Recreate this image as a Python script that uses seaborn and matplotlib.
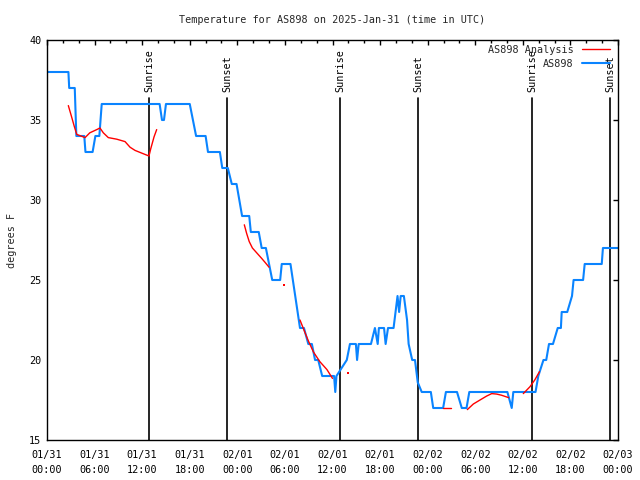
import numpy as np
import pandas as pd
import matplotlib
matplotlib.use("Agg")
import matplotlib.pyplot as plt
import matplotlib.dates as mdates
import seaborn as sns
from matplotlib.lines import Line2D

# ---------------- data ----------------
start = pd.Timestamp("2025-01-31 00:00")
end = pd.Timestamp("2025-02-03 00:00")

obs_hours = [0, 2.7, 2.8, 3.5, 3.7, 4.7, 4.85, 5.75, 6.1, 6.6,
             6.9, 14.2, 14.5, 14.75, 15.0, 18.0, 18.4, 18.8, 20.0, 20.3,
             21.8, 22.1, 22.8, 23.3, 23.9, 24.6, 25.5, 25.7, 26.7, 27.07,
             27.6, 28.0, 28.4, 29.4, 29.6, 30.7, 31.0, 31.3, 31.6, 31.9,
             32.4, 32.95, 33.4, 33.8, 34.2, 34.7, 36.2, 36.35, 36.5, 37.8,
             38.2, 38.95, 39.1, 39.3, 40.85, 41.35, 41.7, 41.85, 42.5, 42.7,
             43.0, 43.7, 44.2, 44.4, 44.6, 45.0, 45.4, 45.6, 46.05, 46.4,
             46.75, 47.25, 48.4, 48.7, 49.95, 50.3, 51.7, 52.3, 52.9, 53.25,
             58.05, 58.6, 58.8, 61.6, 61.95, 62.6, 62.95, 63.3, 63.8, 64.4,
             64.8, 64.9, 65.6, 66.2, 66.4, 67.6, 67.8, 69.95, 70.1, 72]
obs_temps = [38, 38, 37, 37, 34, 34, 33, 33, 34, 34,
             36, 36, 35, 35, 36, 36, 35, 34, 34, 33,
             33, 32, 32, 31, 31, 29, 29, 28, 28, 27,
             27, 26, 25, 25, 26, 26, 25, 24, 23, 22,
             22, 21, 21, 20, 20, 19, 19, 18, 19, 20,
             21, 21, 20, 21, 21, 22, 21, 22, 22, 21,
             22, 22, 24, 23, 24, 24, 22.5, 21, 20, 20,
             18.6, 18, 18, 17, 17, 18, 18, 17, 17, 18,
             18, 17, 18, 18, 19, 20, 20, 21, 21, 22,
             22, 23, 23, 24, 25, 25, 26, 26, 27, 27]

ana_seg1_hours = [2.69, 3.1, 3.44, 3.75, 4.8, 5.4, 6.27, 6.68, 7.1, 7.73,
                  8.8, 9.84, 10.47, 11.1, 12.1, 12.86, 13.08, 13.5, 13.83]
ana_seg1_temps = [35.9, 35.2, 34.6, 34.1, 33.9, 34.2, 34.4, 34.5, 34.2, 33.9,
                  33.8, 33.65, 33.3, 33.1, 32.9, 32.75, 33.2, 33.95, 34.4]
ana_seg2_hours = [24.88, 25.18, 25.5, 25.9, 26.44, 27.07, 27.5, 28.0]
ana_seg2_temps = [28.45, 27.9, 27.4, 27.0, 26.7, 26.35, 26.1, 25.8]
ana_seg3_hours = [31.9, 32.3, 32.95, 33.6, 34.4, 35.3, 36.0]
ana_seg3_temps = [22.5, 22.0, 21.2, 20.5, 19.9, 19.4, 18.85]
ana_seg4_hours = [49.95, 51.0]
ana_seg4_temps = [17, 17]
ana_seg5_hours = [53.0, 53.76, 54.6, 55.45, 56.08, 56.7, 57.3, 58.2]
ana_seg5_temps = [16.9, 17.25, 17.5, 17.75, 17.9, 17.87, 17.8, 17.65]
ana_seg6_hours = [60.06, 60.9, 61.5, 62.1]
ana_seg6_temps = [17.9, 18.33, 18.75, 19.27]
ana_dot_hours = [29.9, 37.9]
ana_dot_temps = [24.67, 19.17]

sun_hours = [12.9, 22.74, 36.99, 46.82, 61.2, 71.03]
sun_labels = ["Sunrise", "Sunset", "Sunrise", "Sunset", "Sunrise", "Sunset"]

title = "Temperature for AS898 on 2025-Jan-31 (time in UTC)"
ylabel = "degrees F"
label_obs = "AS898"
label_ana = "AS898 Analysis"

# ---------------- build frames ----------------
def to_time(h):
    return start + pd.to_timedelta(np.asarray(h, dtype=float), unit="h")

obs = pd.DataFrame({"time": to_time(obs_hours), "temp": obs_temps})
segs = [(ana_seg1_hours, ana_seg1_temps), (ana_seg2_hours, ana_seg2_temps),
        (ana_seg3_hours, ana_seg3_temps), (ana_seg4_hours, ana_seg4_temps),
        (ana_seg5_hours, ana_seg5_temps), (ana_seg6_hours, ana_seg6_temps)]
ana = pd.concat([pd.DataFrame({"time": to_time(h), "temp": t, "seg": i})
                 for i, (h, t) in enumerate(segs)], ignore_index=True)
dots = pd.DataFrame({"time": to_time(ana_dot_hours), "temp": ana_dot_temps})

# ---------------- plot ----------------
sns.set_style("white")
plt.rcParams["font.family"] = ["DejaVu Sans Mono"]
FS = 7.3

fig = plt.figure(figsize=(6.4, 4.8), dpi=100)
ax = fig.add_axes([47 / 640, 1 - 440 / 480, 571 / 640, 400 / 480])

RED = "#ff0000"
BLUE = "#0a84ff"

sns.lineplot(data=ana, x="time", y="temp", units="seg", estimator=None,
             color=RED, lw=1.0, ax=ax, legend=False, zorder=3)
sns.scatterplot(data=dots, x="time", y="temp", color=RED, s=2, marker="s",
                linewidth=0, ax=ax, legend=False, zorder=3)
sns.lineplot(data=obs, x="time", y="temp", color=BLUE, lw=1.5, ax=ax,
             legend=False, zorder=2)

for h, lab in zip(sun_hours, sun_labels):
    t = to_time([h])[0]
    ax.axvline(t, ymin=0, ymax=0.855, color="black", lw=1.2, zorder=1)
    ax.text(t, 0.87 * 25 + 15, lab, rotation=90, ha="center", va="bottom",
            fontsize=FS, color="black")

ax.set_xlim(start, end)
ax.set_ylim(15, 40)
ax.set_yticks([15, 20, 25, 30, 35, 40])
ax.xaxis.set_major_locator(mdates.HourLocator(byhour=[0, 6, 12, 18]))
ax.xaxis.set_minor_locator(mdates.HourLocator(interval=2))
ax.xaxis.set_major_formatter(mdates.DateFormatter("%m/%d\n%H:%M"))

ax.tick_params(axis="both", which="both", direction="in", top=True,
               right=True, colors="black", labelsize=FS)
ax.tick_params(axis="x", which="major", length=3.5, width=1, pad=7.5)
ax.tick_params(axis="x", which="minor", length=2, width=1)
ax.tick_params(axis="y", which="major", length=3.5, width=1, pad=4)
for lbl in ax.get_xticklabels():
    lbl.set_linespacing(1.6)

for s in ax.spines.values():
    s.set_color("black")
    s.set_linewidth(1.0)

ax.set_xlabel("")
ax.set_ylabel(ylabel, fontsize=FS, labelpad=9)
ax.set_title(title, fontsize=FS, pad=12)

handles = [Line2D([], [], color=RED, lw=1.0), Line2D([], [], color=BLUE, lw=1.5)]
ax.legend(handles, [label_ana, label_obs], loc="upper right",
          bbox_to_anchor=(0.986, 0.9875), frameon=False, markerfirst=False,
          fontsize=FS, handlelength=2.8, handletextpad=0.8, borderpad=0,
          borderaxespad=0, labelspacing=0.35)

fig.savefig("out.png", dpi=100)
